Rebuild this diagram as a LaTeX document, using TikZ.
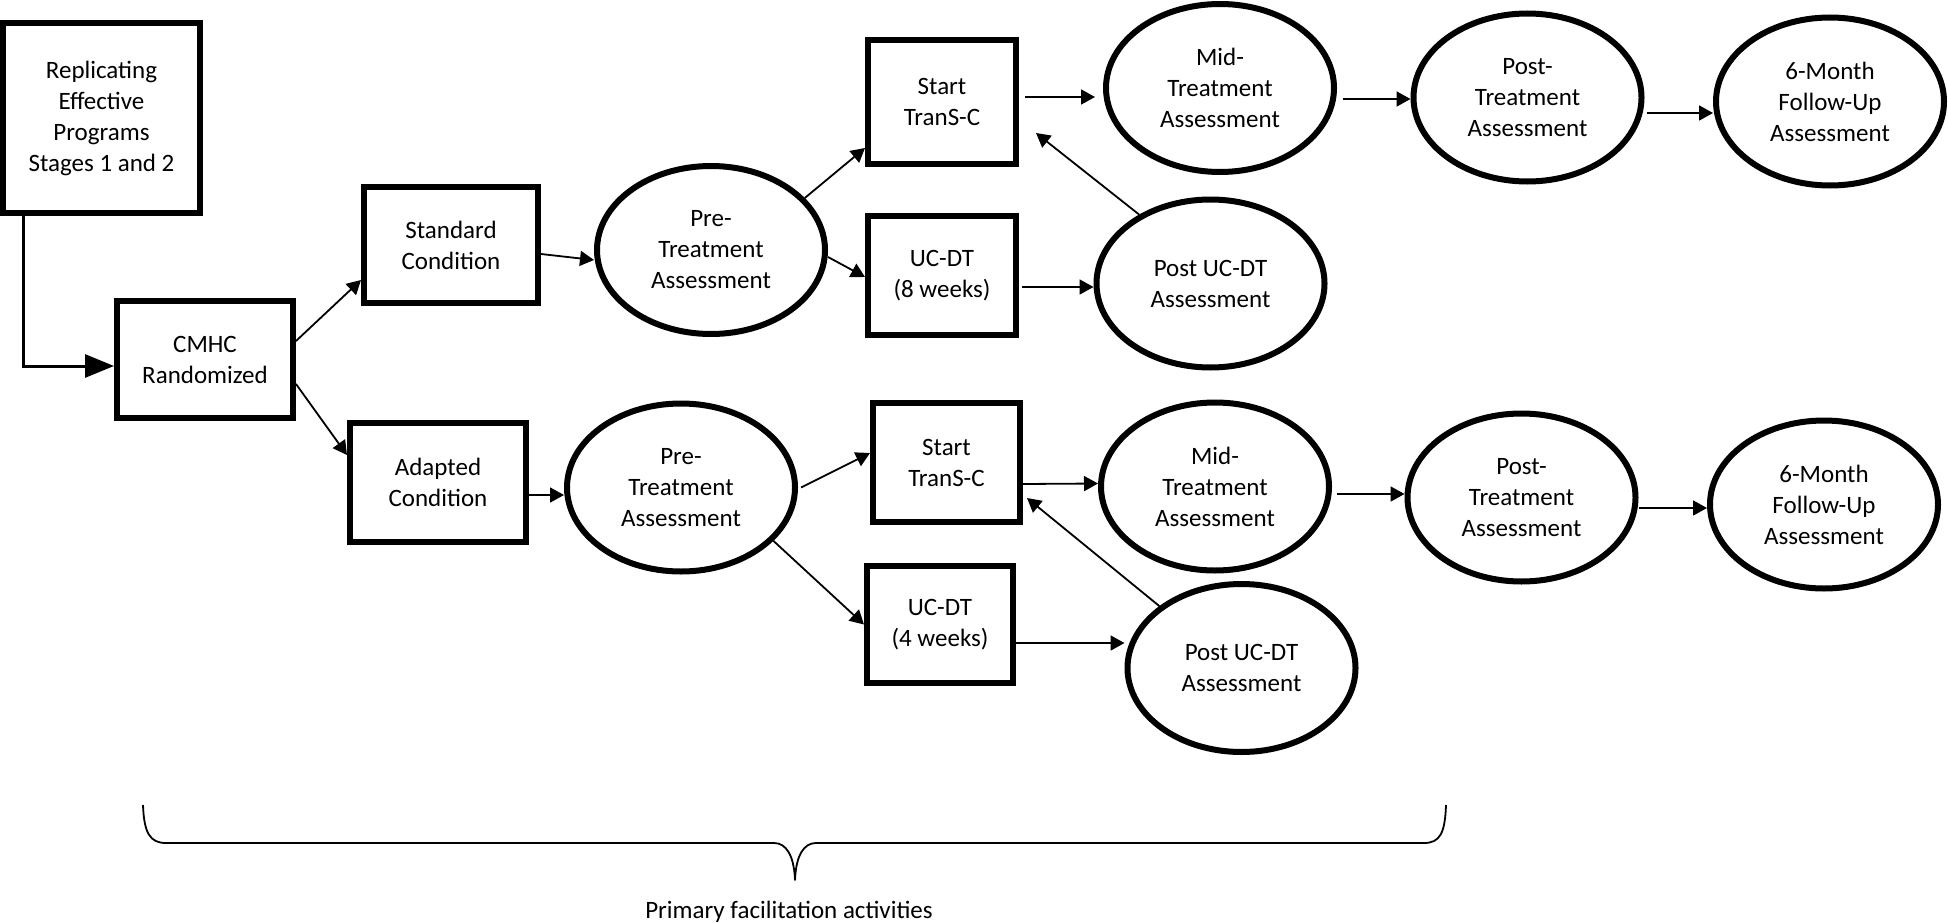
\documentclass[tikz,border=0pt]{standalone}
\usepackage{fontspec}
\setmainfont{Carlito}
\usetikzlibrary{shapes.geometric,arrows.meta,calc}
\begin{document}
\begin{tikzpicture}[x=1pt,y=-1pt,
  every node/.style={font=\fontsize{25}{31}\selectfont, align=center, inner sep=0pt},
  boxnode/.style={draw, line width=6pt, rectangle},
  ellnode/.style={draw, line width=6pt, ellipse, minimum width=228pt, minimum height=168pt},
  arr/.style={line width=1.8pt, -{Triangle[length=14pt,width=15pt]}},
  bigarr/.style={line width=3pt, -{Triangle[length=29pt,width=23pt]}}]
\useasboundingbox (0,0) rectangle (1948,923);

% boxes
\node[boxnode, minimum width=197pt, minimum height=190pt] (rep) at (101.5,118) {Replicating\\Effective\\Programs\\Stages 1 and 2};
\node[boxnode, minimum width=176pt, minimum height=117pt] (cmhc) at (205,359.5) {CMHC\\Randomized};
\node[boxnode, minimum width=174pt, minimum height=116pt] (std) at (451,245) {Standard\\Condition};
\node[boxnode, minimum width=176pt, minimum height=119pt] (adp) at (438,482.5) {Adapted\\Condition};
\node[boxnode, minimum width=148pt, minimum height=124pt] (st1) at (942,102) {Start\\TranS-C};
\node[boxnode, minimum width=148pt, minimum height=119pt] (uc8) at (942,275.5) {UC-DT\\(8 weeks)};
\node[boxnode, minimum width=147pt, minimum height=119pt] (st2) at (946.5,462.5) {Start\\TranS-C};
\node[boxnode, minimum width=146pt, minimum height=117pt] (uc4) at (940,624.5) {UC-DT\\(4 weeks)};

% ellipses
\node[ellnode] (pre1) at (711,250) {Pre-\\Treatment\\Assessment};
\node[ellnode] (mid1) at (1220,88) {Mid-\\Treatment\\Assessment};
\node[ellnode] (post1) at (1527.5,97.5) {Post-\\Treatment\\Assessment};
\node[ellnode] (six1) at (1830,101.5) {6-Month\\Follow-Up\\Assessment};
\node[ellnode] (pu1) at (1210.5,283.5) {Post UC-DT\\Assessment};
\node[ellnode] (pre2) at (681,487.5) {Pre-\\Treatment\\Assessment};
\node[ellnode] (mid2) at (1215,486.5) {Mid-\\Treatment\\Assessment};
\node[ellnode] (post2) at (1521.5,497.5) {Post-\\Treatment\\Assessment};
\node[ellnode] (six2) at (1824,504.5) {6-Month\\Follow-Up\\Assessment};
\node[ellnode] (pu2) at (1241.5,668) {Post UC-DT\\Assessment};

% connectors
\draw[bigarr] ([xshift=23pt]rep.south west) |- ([yshift=-6.5pt]cmhc.west);
\draw[arr] ([yshift=18.5pt]cmhc.east) -- ([yshift=-35pt]std.west);
\draw[arr] ([yshift=-24.5pt]cmhc.east) -- ([yshift=27.5pt]adp.west);
\draw[arr] ([yshift=-9pt]std.east) -- ([yshift=-10pt]pre1.west);
\draw[arr] ([yshift=-12.5pt]adp.east) -- ([yshift=-7.5pt]pre2.west);
\draw[arr] (pre1.29) -- ([yshift=-46pt]st1.west);
\draw[arr] ([yshift=-7pt]pre1.east) -- ([yshift=-1.5pt]uc8.west);
\draw[arr] ([xshift=6pt,yshift=5pt]st1.east) -- ([xshift=-8pt,yshift=-9pt]mid1.west);
\draw[arr] ([xshift=3pt,yshift=-11.5pt]uc8.east) -- ([yshift=-3.5pt]pu1.west);
\draw[arr] (pu1.136) -- ([xshift=17pt,yshift=34pt]st1.south east);
\draw[arr] ([xshift=6pt,yshift=-11pt]mid1.east) -- ([yshift=-1.5pt]post1.west);
\draw[arr] ([xshift=2pt,yshift=-15.5pt]post1.east) -- ([yshift=-11.5pt]six1.west);
\draw[arr] ([xshift=3pt]pre2.east) -- ([yshift=9.5pt]st2.west);
\draw[arr] (pre2.-30) -- (uc4.west);
\draw[arr] ([yshift=-21.5pt]st2.east) -- ([yshift=3pt]mid2.west);
\draw[arr] ([yshift=-18.5pt]uc4.east) -- ([yshift=25pt]pu2.west);
\draw[arr] (pu2.143) -- ([xshift=4pt,yshift=27pt]st2.south east);
\draw[arr] ([xshift=5pt,yshift=-7.5pt]mid2.east) -- ([yshift=3.5pt]post2.west);
\draw[arr] ([yshift=-10.5pt]post2.east) -- ([yshift=-3.5pt]six2.west);

% brace
\draw[line width=1.8pt, line join=round]
  (143,805) .. controls (144,833) and (150,843) .. (166,843) -- (774,843)
  .. controls (786,843) and (794,855) .. (795,880)
  .. controls (796,855) and (804,843) .. (816,843) -- (1424,843)
  .. controls (1440,843) and (1445,833) .. (1446,805);
\node[anchor=base] (lbl) at (789,918) {Primary facilitation activities};
\end{tikzpicture}
\end{document}
